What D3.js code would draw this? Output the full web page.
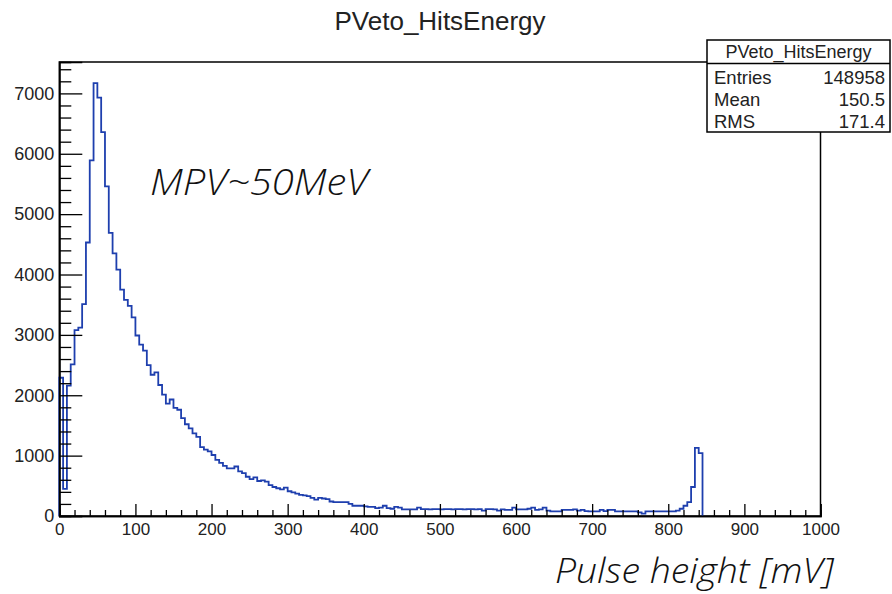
<!DOCTYPE html>
<html>
<head>
<meta charset="utf-8">
<script src="https://cdn.jsdelivr.net/npm/d3@7"></script>
<style>
  html, body { margin: 0; padding: 0; background: #fff; }
  svg { display: block; }
</style>
</head>
<body>
<svg id="chart" width="892" height="594"></svg>
<script>
// ---------------- data ----------------
const histTitle = "PVeto_HitsEnergy";
const binWidth = 5;            // mV per bin
const xRange = [0, 1000];
// bin contents, bins starting at 0 mV, width 5 mV
const binCounts = [
  2290, 450, 2160, 2510, 3080, 3120, 3510, 4530, 5890, 7170,
  6930, 6360, 5460, 4690, 4350, 4080, 3750, 3580, 3480, 3290,
  2990, 2840, 2740, 2500, 2340, 2380, 2170, 2010, 1860, 1930,
  1790, 1760, 1620, 1520, 1450, 1370, 1310, 1140, 1100, 1070,
  1010, 930, 880, 830, 790, 790, 820, 740, 710, 650,
  610, 640, 580, 590, 570, 510, 480, 460, 440, 470,
  410, 390, 370, 350, 340, 330, 300, 270, 300, 290,
  280, 240, 230, 230, 230, 230, 200, 170, 170, 170,
  160, 150, 150, 130, 140, 170, 130, 120, 150, 140,
  110, 110, 110, 110, 140, 115, 115, 110, 115, 115,
  110, 115, 115, 110, 115, 115, 110, 115, 115, 110,
  115, 90, 115, 115, 110, 90, 110, 100, 100, 140,
  110, 110, 110, 120, 140, 100, 110, 140, 90, 75,
  75, 75, 100, 100, 100, 110, 90, 100, 80, 75,
  75, 75, 100, 80, 100, 100, 75, 75, 75, 75,
  75, 75, 60, 40, 75, 75, 75, 75, 75, 75,
  75, 75, 90, 120, 170, 230, 480, 1130, 1040
];
const statLabels = ["Entries", "Mean", "RMS"];
const statValues = ["148958", "150.5", "171.4"];
const xMajorTicks = [0, 100, 200, 300, 400, 500, 600, 700, 800, 900, 1000];
const yMajorTicks = [0, 1000, 2000, 3000, 4000, 5000, 6000, 7000];
const yMax = 7520;
const annotation = "MPV~50MeV";
const xTitle = "Pulse height [mV]";

// ---------------- layout ----------------
const svg = d3.select("#chart");
const SANS = "'Liberation Sans', Arial, Helvetica, sans-serif";
const LIGHT = "'Open Sans', Lato, Roboto, 'Liberation Sans', sans-serif";
const L = 59.3, R = 820.5, T = 62, B = 516;
const x = d3.scaleLinear().domain(xRange).range([L, R]);
const y = d3.scaleLinear().domain([0, yMax]).range([B, T]);

// frame
svg.append("rect").attr("x", L).attr("y", T).attr("width", R - L).attr("height", B - T)
  .attr("fill", "none").attr("stroke", "#000").attr("stroke-width", 1.5);

// histogram outline
const pts = [[0, 0]];
binCounts.forEach((v, i) => {
  pts.push([i * binWidth, v]);
  pts.push([(i + 1) * binWidth, v]);
});
pts.push([binCounts.length * binWidth, 0]);
const line = d3.line().x(d => x(d[0])).y(d => y(d[1]));
svg.append("path").attr("d", line(pts)).attr("fill", "none")
  .attr("stroke", "#1e3fae").attr("stroke-width", 1.8).attr("stroke-linejoin", "miter");

// x axis
const xMinor = d3.range(0, 1001, 20).filter(v => v % 100 !== 0);
const gx = svg.append("g").attr("transform", `translate(0,${B})`);
gx.call(d3.axisBottom(x).tickValues(xMinor).tickSize(-6).tickFormat(""));
gx.append("g").call(d3.axisBottom(x).tickValues(xMajorTicks).tickSize(-12).tickFormat(d3.format("d")));
gx.selectAll(".domain").attr("stroke", "#000").attr("stroke-width", 1.5);
gx.selectAll("line").attr("stroke", "#000").attr("stroke-width", 1.3);
gx.selectAll("text").style("font-family", SANS).style("font-size", "17px")
  .attr("fill", "#222").attr("y", 7).attr("dy", "0.71em");

// y axis
const yMinor = d3.range(0, yMax, 200).filter(v => v % 1000 !== 0);
const gy = svg.append("g").attr("transform", `translate(${L},0)`);
gy.call(d3.axisLeft(y).tickValues(yMinor).tickSize(-12).tickFormat(""));
gy.append("g").call(d3.axisLeft(y).tickValues(yMajorTicks).tickSize(-23).tickFormat(d3.format("d")));
gy.selectAll(".domain").attr("stroke", "#000").attr("stroke-width", 1.5);
gy.selectAll("line").attr("stroke", "#000").attr("stroke-width", 1.3);
gy.selectAll("text").style("font-family", SANS).style("font-size", "18px")
  .attr("fill", "#222").attr("x", -5);

// title
svg.append("text").attr("x", 440).attr("y", 30).attr("text-anchor", "middle")
  .style("font-family", SANS).style("font-size", "26px").attr("fill", "#222").text(histTitle);

// stats box
const bx = 707, by = 40, bw = 183, bh = 92;
svg.append("rect").attr("x", bx).attr("y", by).attr("width", bw).attr("height", bh)
  .attr("fill", "#fff").attr("stroke", "#000").attr("stroke-width", 1.5);
svg.append("line").attr("x1", bx).attr("x2", bx + bw).attr("y1", 63.5).attr("y2", 63.5)
  .attr("stroke", "#000").attr("stroke-width", 1.3);
svg.append("text").attr("x", bx + bw / 2).attr("y", 57.5).attr("text-anchor", "middle")
  .style("font-family", SANS).style("font-size", "18px").attr("fill", "#222").text(histTitle);
const rowY = [83.5, 105.5, 127.5];
statLabels.forEach((s, i) => {
  svg.append("text").attr("x", 714).attr("y", rowY[i])
    .style("font-family", SANS).style("font-size", "18.5px").attr("fill", "#222").text(s);
  svg.append("text").attr("x", 885).attr("y", rowY[i]).attr("text-anchor", "end")
    .style("font-family", SANS).style("font-size", "18.5px").attr("fill", "#222").text(statValues[i]);
});

// annotations
svg.append("text").attr("x", 150).attr("y", 195)
  .style("font-family", LIGHT).style("font-size", "36px")
  .style("font-style", "italic").style("font-weight", "300")
  .attr("textLength", 218).attr("lengthAdjust", "spacingAndGlyphs")
  .attr("fill", "#111").text(annotation);
svg.append("text").attr("x", 555).attr("y", 583)
  .style("font-family", LIGHT).style("font-size", "35px")
  .style("font-style", "italic").style("font-weight", "300")
  .attr("textLength", 279).attr("lengthAdjust", "spacingAndGlyphs")
  .attr("fill", "#111").text(xTitle);
</script>
</body>
</html>
